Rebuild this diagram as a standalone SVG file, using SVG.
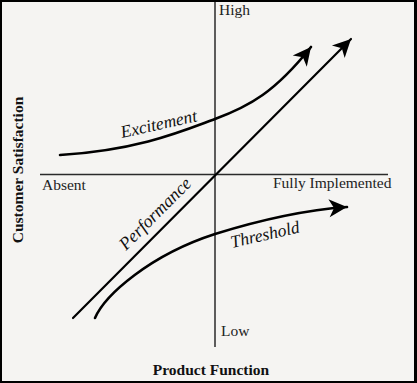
<svg xmlns="http://www.w3.org/2000/svg" width="417" height="383" viewBox="0 0 417 383">
<defs>
<style>
.axis{stroke:#2a2a2a;stroke-width:1.5;fill:none}
.curve{stroke:#000;stroke-width:2.6;fill:none;stroke-linecap:round}
.lbl{font-family:"Liberation Serif","Times New Roman",serif;font-size:15.5px;fill:#222}
.ttl{font-family:"Liberation Serif","Times New Roman",serif;font-size:15.5px;font-weight:bold;fill:#111}
.cl{font-family:"Liberation Serif","Times New Roman",serif;font-style:italic;font-size:17.5px;fill:#111}
</style>
<marker id="ah" markerUnits="userSpaceOnUse" viewBox="-19 -10 20 20" markerWidth="20" markerHeight="20" refX="0" refY="0" orient="auto">
<path d="M0,0 L-18,-9 L-13,0 L-18,9 Z" fill="#000"/>
</marker>
</defs>
<rect x="0" y="0" width="417" height="383" fill="#f5f4f2"/>
<g id="frame">
<rect x="0" y="0" width="2" height="383" fill="#000"/>
<rect x="0" y="0" width="417" height="2" fill="#000"/>
<rect x="414" y="0" width="3" height="383" fill="#000"/>
<rect x="0" y="381" width="417" height="2" fill="#000"/>
</g>
<g id="axes">
<line class="axis" x1="215" y1="2" x2="215" y2="347"/>
<line class="axis" x1="40" y1="174.5" x2="388" y2="174.5"/>
<text class="lbl" x="219" y="15">High</text>
<text class="lbl" x="221" y="336">Low</text>
<text class="lbl" x="42" y="190">Absent</text>
<text class="lbl" x="273" y="188">Fully Implemented</text>
<text class="ttl" x="211" y="375" text-anchor="middle">Product Function</text>
<text class="ttl" transform="translate(23,170) rotate(-90)" text-anchor="middle">Customer Satisfaction</text>
</g>
<g id="connectors">
<g id="excitement">
<path class="curve" d="M60,155 C140,150 185,130 215,119 C250,106 275,92 311,47" marker-end="url(#ah)"/>
<text class="cl" transform="translate(122,138) rotate(-12.5)">Excitement</text>
</g>
<g id="performance">
<path class="curve" style="stroke-width:2.2" d="M73,318 L351,39" marker-end="url(#ah)"/>
<text class="cl" style="font-size:18px" transform="translate(126,251) rotate(-45)">Performance</text>
</g>
<g id="threshold">
<path class="curve" d="M95,318 C105,295 150,255 215,234 C260,220 305,210 347,207" marker-end="url(#ah)"/>
<text class="cl" transform="translate(232,248) rotate(-13)">Threshold</text>
</g>
</g>
</svg>
